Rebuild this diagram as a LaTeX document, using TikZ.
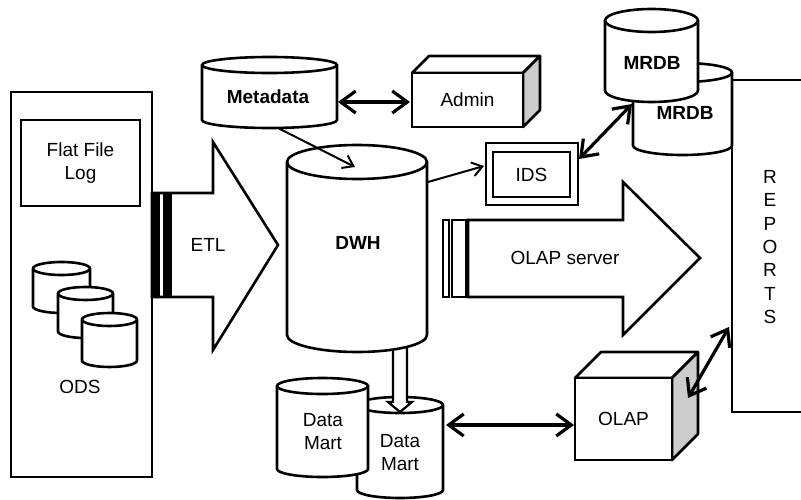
\documentclass[tikz,border=0pt]{standalone}
\usepackage{fontspec}
\setmainfont{Liberation Sans}
\usetikzlibrary{arrows.meta}

% cylinder outline: left, right, top, bottom, vertical radius of the end ellipses
\newcommand\drawcyl[5]{%
  \pgfmathsetmacro\cylrx{(#2-#1)/2}%
  \path[shape line] (#1,#3+#5) -- (#1,#4-#5)
    arc[start angle=180,end angle=0,x radius=\cylrx,y radius=#5]
    -- (#2,#3+#5)
    arc[start angle=0,end angle=-180,x radius=\cylrx,y radius=#5] -- cycle;
  \draw[line width=2.6pt] (#1,#3+#5)
    arc[start angle=180,end angle=0,x radius=\cylrx,y radius=#5];
}
% top and shaded side of a box drawn as a cube: left, top, right, bottom, depth
\newcommand\drawcubeback[5]{%
  \path[shape line, line join=round] (#1,#2) -- (#1+#5,#2-#5) -- (#3+#5,#2-#5) -- (#3,#2) -- cycle;
  \path[side face] (#3,#2) -- (#3+#5,#2-#5) -- (#3+#5,#4-#5) -- (#3,#4) -- cycle;
}

\tikzset{
  shape line/.style={draw=black, line width=2.6pt, fill=white},
  side face/.style={draw=black, line width=2.6pt, fill=black!20, line join=round},
  label text/.style={font=\fontsize{19}{23}\selectfont, align=center, inner sep=0pt},
  bold text/.style={font=\fontsize{19}{23}\selectfont\bfseries, align=center, inner sep=0pt},
  boxnode/.style={shape line, label text, rectangle},
  thick link/.style={line width=3.2pt,
    {Straight Barb[length=15pt,width=22pt]}-{Straight Barb[length=15pt,width=22pt]}},
  thin link/.style={line width=2pt, -{Straight Barb[length=10pt,width=14pt]}},
}

\begin{document}
\begin{tikzpicture}[x=1pt, y=-1pt]
\useasboundingbox[fill=white] (0,0) rectangle (801,500);

% ---------- sources ----------
\node[boxnode, minimum width=141, minimum height=385] (src) at (81.5,284.5) {};
\node[boxnode, minimum width=119, minimum height=86] (flat) at (80.5,163) {Flat File\\Log};
\drawcyl{33}{90}{262}{313}{6.5}
\drawcyl{58}{113}{287}{338}{6.5}
\drawcyl{82}{137}{313}{367}{6.5}
\node[label text] (ods) at (80,387) {ODS};

% ---------- ETL block arrow ----------
\path[shape line, line join=miter] (152,193) -- (213,193) -- (213,142) -- (278,245)
  -- (213,350) -- (213,297) -- (152,297) -- cycle;
\fill (151,193) rectangle (160,297);
\fill (163,193) rectangle (172,297);
\node[label text] (etl) at (208,245) {ETL};

% ---------- data marts ----------
\drawcyl{357}{443}{397}{498}{8}
\node[label text] (dm2) at (400,453) {Data\\Mart};
\path[draw=black, line width=2.2pt, fill=white, line join=miter]
  (393,347) -- (393,402) -- (388,402) -- (400,412) -- (412,402) -- (407,402) -- (407,347) -- cycle;
\drawcyl{277}{368}{378}{477}{8}
\node[label text] (dm1) at (323,432) {Data\\Mart};

% ---------- warehouse ----------
\drawcyl{287}{427}{145}{352}{17}
\node[bold text] (dwh) at (358,243) {DWH};

% ---------- metadata and admin ----------
\drawcyl{202}{337}{57}{128}{8}
\node[bold text] (meta) at (268,97) {Metadata};
\drawcubeback{412}{73}{523}{127}{17}
\node[boxnode, minimum width=111, minimum height=54] (admin) at (467.5,100) {Admin};

% ---------- IDS ----------
\node[boxnode, minimum width=92, minimum height=62] (idsout) at (532,174) {};
\node[boxnode, minimum width=77, minimum height=45] (ids) at (531.5,174.5) {IDS};

% ---------- MRDB ----------
\drawcyl{633}{732}{63}{155}{9.5}
\node[bold text] (mrdb2) at (685,113) {MRDB};
\drawcyl{605}{698}{9}{102}{11.5}
\node[bold text] (mrdb1) at (652,63) {MRDB};

% ---------- reports ----------
\coordinate (repTR) at (801,80);
\coordinate (repTL) at (732,80);
\coordinate (repBL) at (732,412);
\coordinate (repBR) at (801,412);
\draw[line width=2.6pt] (repTR) -- (repTL) -- (repBL) -- (repBR);
\node[font=\fontsize{19}{23.3}\selectfont, align=center, inner sep=0pt] (reports) at (770,247)
  {R\\E\\P\\O\\R\\T\\S};

% ---------- OLAP server block arrow ----------
\path[shape line, line join=miter] (468,220) -- (623,220) -- (623,182) -- (700,258)
  -- (623,335) -- (623,297) -- (468,297) -- cycle;
\draw[line width=2.2pt] (443,220) rectangle (449,297);
\draw[line width=2.2pt] (452,220) rectangle (466,297);
\node[label text] (olapsrv) at (565,258) {OLAP server};

% ---------- OLAP cube ----------
\drawcubeback{575}{378}{672}{460}{26}
\node[boxnode, minimum width=97, minimum height=82] (olap) at (623.5,419) {OLAP};

% ---------- connectors ----------
\coordinate (metaR) at (338,102);
\coordinate (adminL) at (410,102);
\coordinate (metaB) at (278,128);
\coordinate (dwhTop) at (355,167);
\coordinate (dwhR) at (428,182);
\coordinate (idsL) at (484,166);
\coordinate (idsR) at (579,159);
\coordinate (mrdbB) at (632,104);
\coordinate (dmR) at (446,425);
\coordinate (olapL) at (574,425);
\coordinate (olapSide) at (688,398);
\coordinate (repL) at (729,327);

\draw[thick link] (metaR) -- (adminL);
\draw[thin link] (metaB) -- (dwhTop);
\draw[thin link] (dwhR) -- (idsL);
\draw[thick link] (idsR) -- (mrdbB);
\draw[thick link] (dmR) -- (olapL);
\draw[thick link] (olapSide) -- (repL);
\end{tikzpicture}
\end{document}
